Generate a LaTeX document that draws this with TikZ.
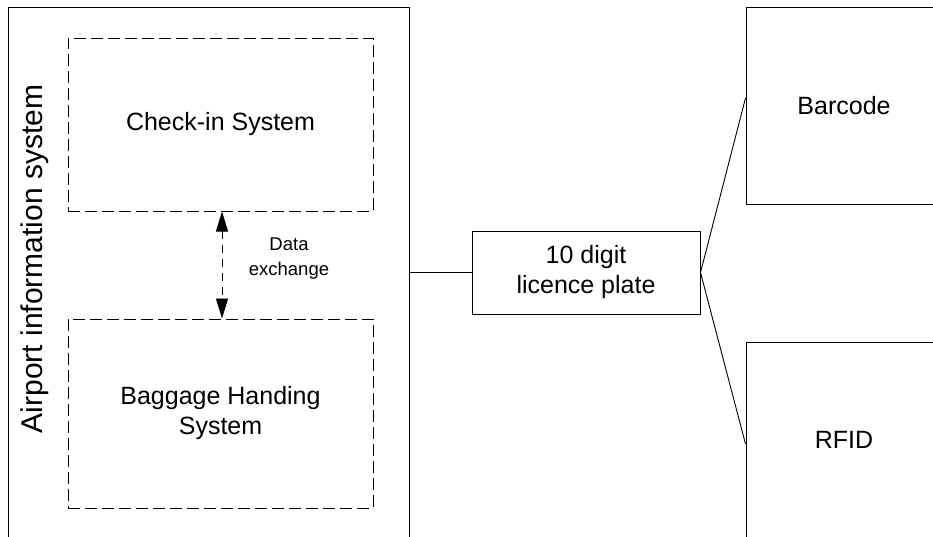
\documentclass[tikz,border=0pt]{standalone}
\usepackage{fontspec}
\setmainfont{Liberation Sans}
\usetikzlibrary{arrows.meta}
\begin{document}
\begin{tikzpicture}[x=1pt,y=-1pt,
  box/.style={draw=black,line width=1pt,rectangle,inner sep=0pt,align=center,
    font=\fontsize{25}{30}\selectfont},
  dbox/.style={box,dash pattern=on 12pt off 5pt},
  lbl/.style={inner sep=0pt,align=center},
  conn/.style={draw=black,line width=0.9pt}]
\useasboundingbox (0,0) rectangle (933,536);
\clip (0,0) rectangle (933,536);
\fill[white] (0,0) rectangle (933,536);
% outer system box (extends below the picture)
\node[box,minimum width=401pt,minimum height=553pt] (ais) at (208.5,283.5) {};
\node[lbl,rotate=90,font=\fontsize{30}{35}\selectfont] (aistext) at (35,259) {Airport information system};
% inner dashed boxes
\node[dbox,minimum width=305pt,minimum height=173pt] (checkin) at (220.5,124.5) {\raisebox{-3pt}{Check-in System}};
\node[dbox,minimum width=305pt,minimum height=189pt] (bag) at (220.5,413.5) {Baggage Handing\\System};
% data exchange arrow
\draw[conn,dash pattern=on 8pt off 6pt,{Triangle[length=20pt,width=12pt]}-{Triangle[length=20pt,width=12pt]}]
  ([xshift=1.5pt]checkin.south) -- ([xshift=1.5pt]bag.north);
\node[lbl,font=\fontsize{18.5}{25}\selectfont] (dx) at (289,259) {Data\\exchange};
% licence plate
\node[box,minimum width=228pt,minimum height=83pt] (plate) at (586,272.5) {10 digit\\licence plate};
\draw[conn] (ais.east |- plate.west) -- (plate.west);
% barcode and RFID boxes (cut by the picture edge)
\node[box,minimum width=196pt,minimum height=197pt] (barcode) at (844,105.5) {Barcode};
\node[box,minimum width=196pt,minimum height=196pt] (rfid) at (844,440) {RFID};
\coordinate (bc) at (barcode.west |- 0,98);
\coordinate (rf) at (rfid.west |- 0,444);
\draw[conn] (plate.east) -- (bc);
\draw[conn] (plate.east) -- (rf);
\end{tikzpicture}
\end{document}
